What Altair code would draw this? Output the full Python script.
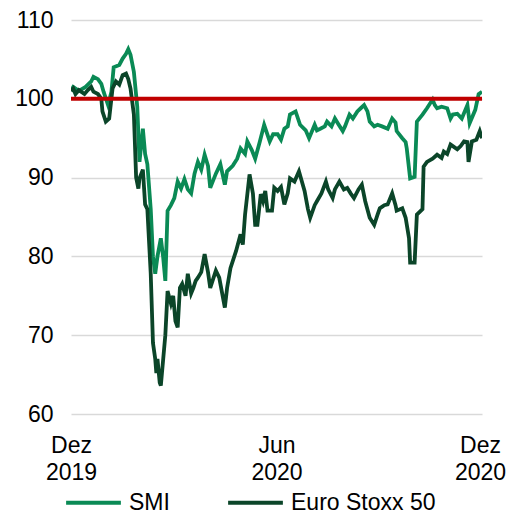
import altair as alt
import pandas as pd

START = "2019-12-01"

smi_days = [0, 2, 7, 13, 18, 20, 24, 27, 29, 33, 36, 38, 43, 46, 49, 51, 53, 56, 59, 61,
            64, 66, 68, 71, 73, 75, 77, 80, 82, 84, 86, 89, 92, 95, 98, 101, 104, 107, 110, 113,
            116, 119, 122, 124, 129, 133, 137, 139, 144, 148, 151, 155, 157, 161, 164, 168, 172, 177, 180, 184,
            187, 190, 193, 195, 200, 204, 209, 212, 217, 219, 222, 226, 228, 232, 235, 238, 242, 244, 248, 251,
            255, 258, 261, 264, 266, 270, 273, 277, 282, 286, 289, 290, 295, 298, 299, 302, 306, 308, 313, 317,
            322, 324, 326, 330, 335, 338, 340, 344, 348, 353, 355, 360, 363, 366]
smi_vals = [101.0, 101.5, 101.0, 101.5, 102.2, 102.8, 102.5, 101.9, 100.9, 99.2, 100.9, 104.0, 104.3, 105.1, 105.7, 106.3, 105.6, 103.4, 99.0, 92.0,
            96.2, 93.0, 91.7, 86.0, 80.0, 77.8, 80.0, 82.3, 80.0, 76.9, 85.8, 86.5, 87.4, 89.5, 88.6, 89.8, 88.5, 88.0, 90.5, 92.0,
            91.0, 92.9, 91.5, 88.7, 90.5, 91.7, 89.1, 90.8, 91.5, 92.4, 93.7, 93.0, 94.6, 93.5, 92.4, 94.5, 96.7, 94.6, 95.5, 95.5,
            94.8, 96.2, 96.5, 98.0, 98.4, 96.7, 96.0, 95.0, 96.7, 96.0, 96.2, 96.5, 97.1, 96.5, 97.5, 96.8, 95.9, 96.5, 98.0, 97.5,
            98.4, 98.8, 99.2, 98.4, 97.1, 96.5, 96.7, 96.5, 96.2, 97.5, 97.0, 95.9, 95.0, 94.5, 93.7, 89.9, 90.1, 97.1, 98.0, 98.8,
            99.9, 99.2, 98.8, 99.0, 98.8, 97.5, 98.0, 98.1, 97.5, 99.2, 96.9, 98.6, 100.6, 100.9]

sx5e_days = [0, 2, 4, 7, 12, 15, 18, 20, 24, 27, 28, 31, 34, 37, 40, 43, 46, 49, 51, 53,
             56, 58, 60, 61, 64, 66, 68, 71, 73, 75, 76, 77, 79, 80, 82, 84, 86, 89, 91, 93,
             95, 97, 99, 102, 104, 107, 109, 111, 113, 116, 119, 122, 124, 129, 132, 137, 139, 142, 147, 151,
             153, 155, 159, 162, 164, 166, 169, 171, 173, 175, 179, 181, 184, 187, 190, 193, 195, 199, 203, 208,
             211, 213, 217, 219, 223, 227, 229, 233, 235, 239, 243, 246, 249, 252, 256, 259, 262, 266, 270, 273,
             275, 279, 282, 286, 289, 290, 295, 298, 301, 302, 306, 308, 313, 314, 317, 322, 326, 330, 332, 335,
             338, 340, 344, 347, 350, 353, 354, 357, 361, 364, 366]
sx5e_vals = [101.0, 101.3, 100.6, 101.1, 100.6, 101.1, 101.5, 100.9, 100.6, 100.0, 98.4, 97.1, 97.5, 101.3, 102.2, 101.8, 103.0, 103.2, 102.5, 101.3,
             98.0, 90.0, 88.6, 89.9, 91.0, 86.6, 86.0, 77.8, 69.0, 67.0, 65.2, 67.0, 64.0, 63.6, 66.8, 70.0, 75.6, 74.0, 75.0, 71.8,
             71.0, 76.0, 76.5, 75.0, 77.8, 75.3, 76.0, 76.9, 77.3, 78.0, 80.3, 78.0, 76.0, 78.2, 77.3, 73.5, 76.0, 78.5, 80.7, 82.8,
             81.5, 85.3, 90.4, 88.0, 84.0, 84.0, 87.9, 87.0, 88.3, 85.8, 85.8, 88.7, 88.3, 88.8, 86.6, 88.0, 89.9, 89.5, 90.8, 88.3,
             86.0, 84.9, 86.5, 87.0, 88.0, 89.5, 88.5, 87.4, 88.5, 89.5, 88.5, 88.7, 88.0, 87.4, 88.5, 89.1, 87.0, 84.9, 84.0, 85.3,
             86.1, 86.5, 86.6, 88.0, 86.5, 85.8, 86.1, 84.9, 82.3, 79.2, 79.2, 85.3, 86.0, 91.4, 92.0, 92.4, 92.9, 92.5, 93.3, 93.0,
             94.2, 94.0, 93.6, 94.0, 94.6, 94.5, 92.0, 94.6, 94.8, 95.9, 95.0]

series_names = ["SMI", "Euro Stoxx 50"]
series_colors = ["#0a8a55", "#0b4529"]
ref_level = [100]

start = pd.Timestamp(START)
smi_df = pd.DataFrame({
    "date": [start + pd.Timedelta(days=d) for d in smi_days],
    "value": smi_vals,
    "series": series_names[0],
})
sx_df = pd.DataFrame({
    "date": [start + pd.Timedelta(days=d) for d in sx5e_days],
    "value": sx5e_vals,
    "series": series_names[1],
})
ref_df = pd.DataFrame({"y": ref_level})

FONT = "Liberation Sans"

x_enc = alt.X(
    "date:T",
    title=None,
    scale=alt.Scale(domain=[alt.DateTime(year=2019, month=12, date=1),
                            alt.DateTime(year=2020, month=12, date=1)]),
    axis=alt.Axis(
        values=[alt.DateTime(year=2019, month=12, date=1),
                alt.DateTime(year=2020, month=6, date=1),
                alt.DateTime(year=2020, month=12, date=1)],
        labelExpr="[month(datum.value) == 11 ? 'Dez' : 'Jun', timeFormat(datum.value, '%Y')]",
        grid=False, domain=False, ticks=False,
        labelFontSize=23, labelFont=FONT, labelColor="#000000",
        labelPadding=20, labelLineHeight=27, labelAlign="center",
        labelBaseline="top", labelOverlap=False, labelFlush=False,
        labelOffset={"condition": {"test": "year(datum.value) == 2020 && month(datum.value) == 11",
                                   "value": -2}, "value": 0},
    ),
)
y_enc = alt.Y(
    "value:Q",
    title=None,
    scale=alt.Scale(domain=[60, 110], nice=False, zero=False),
    axis=alt.Axis(
        values=[60, 70, 80, 90, 100, 110],
        grid=True, gridColor="#d9d9d9", gridWidth=1.5,
        domain=False, ticks=False,
        labelFontSize=23, labelFont=FONT, labelColor="#000000",
        labelPadding=18,
    ),
)
color_enc = alt.Color(
    "series:N",
    scale=alt.Scale(domain=series_names, range=series_colors),
    legend=alt.Legend(
        title=None, orient="none", legendX=-7, legendY=453,
        direction="horizontal", symbolType="stroke", symbolSize=3000,
        symbolStrokeWidth=4, labelFontSize=23, labelFont=FONT,
        labelColor="#000000", labelOffset=6, columnPadding=50,
    ),
)

smi_line = alt.Chart(smi_df).mark_line(strokeWidth=3.8, clip=True).encode(
    x=x_enc, y=y_enc, color=color_enc)
sx_line = alt.Chart(sx_df).mark_line(strokeWidth=3.8, clip=True).encode(
    x=x_enc, y=y_enc, color=color_enc)
ref_rule = alt.Chart(ref_df).mark_rule(color="#c00000", strokeWidth=4).encode(
    y=alt.Y("y:Q"))

chart = alt.layer(smi_line, sx_line, ref_rule).properties(
    width=411, height=394,
    autosize=alt.AutoSizeParams(type="none"),
    padding={"left": 63, "top": 12, "right": 24, "bottom": 100},
).configure_view(stroke=None)

chart.save("out.html", embed_options={"renderer": "svg", "actions": False})
